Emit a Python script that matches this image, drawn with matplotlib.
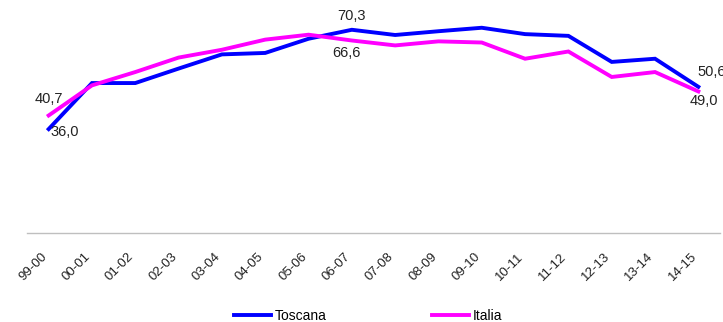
import matplotlib
matplotlib.use("Agg")
import matplotlib.pyplot as plt
import matplotlib.transforms as mtransforms

plt.rcParams['font.family'] = ['Liberation Sans', 'DejaVu Sans']

# School years and participation rates (%)
anni = ["99-00", "00-01", "01-02", "02-03", "03-04", "04-05", "05-06", "06-07",
        "07-08", "08-09", "09-10", "10-11", "11-12", "12-13", "13-14", "14-15"]
toscana = [36.0, 51.9, 51.9, 56.9, 61.8, 62.3, 67.2, 70.3,
           68.5, 69.8, 71.0, 68.8, 68.2, 59.2, 60.3, 50.6]
italia = [40.7, 51.1, 55.7, 60.7, 63.4, 66.9, 68.6, 66.6,
          64.9, 66.3, 65.9, 60.3, 62.8, 54.0, 55.7, 49.0]

# Values written next to selected points: (series, index, offset px, ha, va)
etichette = [
    ("italia", 0, (0, 9), "center", "bottom"),
    ("toscana", 0, (2, -3), "left", "center"),
    ("toscana", 7, (0, 7), "center", "bottom"),
    ("italia", 7, (-5, -6), "center", "top"),
    ("toscana", 15, (-1, 8), "left", "bottom"),
    ("italia", 15, (6, -3), "center", "top"),
]

W, H = 723, 322
fig = plt.figure(figsize=(W / 100, H / 100), dpi=100)
ax = fig.add_axes([27 / W, (H - 233.3) / H, 693 / W, 231.6 / H])

x = list(range(len(anni)))
blu = "#0000FF"
magenta = "#FF00FF"
ax.plot(x, toscana, color=blu, lw=2.8, label="Toscana", solid_joinstyle="miter")
ax.plot(x, italia, color=magenta, lw=2.8, label="Italia", solid_joinstyle="miter")

serie = {"toscana": toscana, "italia": italia}
for nome, i, off, ha, va in etichette:
    v = serie[nome][i]
    ax.annotate(f"{v:.1f}".replace(".", ","), (i, v), xytext=off,
                textcoords="offset pixels", ha=ha, va=va,
                fontsize=10.5, color="#222222", annotation_clip=False)

ax.set_xlim(-0.5, 15.5)
ax.set_ylim(0, 80)
ax.set_xticks(x)
ax.set_xticklabels(anni, rotation=45, ha="right", va="center",
                   rotation_mode="anchor", fontsize=9.5, color="#222222")
ax.tick_params(axis="x", length=0, pad=15.5)
shift = mtransforms.ScaledTranslation(-3.5 / 100, 0, fig.dpi_scale_trans)
for lab in ax.get_xticklabels():
    lab.set_transform(lab.get_transform() + shift)
ax.set_yticks([])

for s in ("top", "right", "left"):
    ax.spines[s].set_visible(False)
ax.spines["bottom"].set_color("#BFBFBF")
ax.spines["bottom"].set_linewidth(1.0)
ax.patch.set_alpha(0)

fig.legend(loc="center", bbox_to_anchor=(368 / W, 1 - 316 / H), ncol=2,
           frameon=False, fontsize=10, handlelength=2.7, handletextpad=0.25,
           columnspacing=7.6, borderpad=0)

fig.savefig("out.png", dpi=100)
